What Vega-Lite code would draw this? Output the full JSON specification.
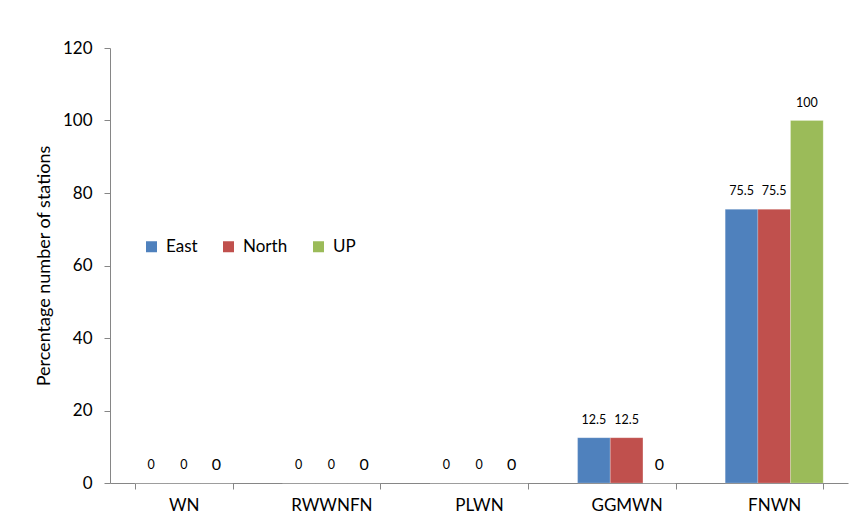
{
  "$schema": "https://vega.github.io/schema/vega-lite/v6.json",
  "autosize": "none",
  "padding": {"left": 110, "top": 48, "right": 18, "bottom": 44},
  "width": 738,
  "height": 435,
  "background": "white",
  "config": {
    "font": "Lato",
    "view": {"stroke": null},
    "axis": {
      "domainColor": "#868686",
      "tickColor": "#868686",
      "labelColor": "#000000",
      "titleColor": "#000000",
      "labelFont": "Lato",
      "titleFont": "Lato",
      "grid": false
    }
  },
  "data": {
    "values": [
      {"category": "WN", "series": "East", "value": 0},
      {"category": "WN", "series": "North", "value": 0},
      {"category": "WN", "series": "UP", "value": 0},
      {"category": "RWWNFN", "series": "East", "value": 0},
      {"category": "RWWNFN", "series": "North", "value": 0},
      {"category": "RWWNFN", "series": "UP", "value": 0},
      {"category": "PLWN", "series": "East", "value": 0},
      {"category": "PLWN", "series": "North", "value": 0},
      {"category": "PLWN", "series": "UP", "value": 0},
      {"category": "GGMWN", "series": "East", "value": 12.5},
      {"category": "GGMWN", "series": "North", "value": 12.5},
      {"category": "GGMWN", "series": "UP", "value": 0},
      {"category": "FNWN", "series": "East", "value": 75.5},
      {"category": "FNWN", "series": "North", "value": 75.5},
      {"category": "FNWN", "series": "UP", "value": 100}
    ]
  },
  "encoding": {
    "x": {
      "field": "category",
      "type": "nominal",
      "sort": ["WN", "RWWNFN", "PLWN", "GGMWN", "FNWN"],
      "scale": {"paddingInner": 0.336, "paddingOuter": 0.168},
      "axis": {
        "title": null,
        "labelAngle": 0,
        "labelFontSize": 17,
        "labelPadding": 8,
        "tickSize": 6,
        "tickBand": "extent",
        "domainWidth": 1
      }
    },
    "xOffset": {
      "field": "series",
      "type": "nominal",
      "sort": ["East", "North", "UP"],
      "scale": {"paddingInner": 0, "paddingOuter": 0}
    },
    "y": {
      "field": "value",
      "type": "quantitative",
      "scale": {"domain": [0, 120], "nice": false},
      "axis": {
        "title": "Percentage number of stations",
        "titleFontSize": 18,
        "titleFontWeight": "normal",
        "titlePadding": 9,
        "labelFontSize": 17,
        "labelPadding": 12,
        "tickSize": 6,
        "values": [0, 20, 40, 60, 80, 100, 120]
      }
    }
  },
  "layer": [
    {
      "mark": {"type": "bar", "stroke": "#ffffff", "strokeOpacity": 0.35, "strokeWidth": 0.6},
      "encoding": {
        "color": {
          "field": "series",
          "type": "nominal",
          "sort": ["East", "North", "UP"],
          "scale": {"domain": ["East", "North", "UP"], "range": ["#4F81BD", "#C0504D", "#9BBB59"]},
          "legend": {
            "title": null,
            "orient": "none",
            "direction": "horizontal",
            "legendX": 33,
            "legendY": 190,
            "symbolType": "square",
            "symbolSize": 121,
            "symbolStrokeWidth": 0,
            "symbolOpacity": 1,
            "labelFontSize": 17,
            "labelFont": "Lato",
            "labelColor": "#000000",
            "labelOffset": 6,
            "columnPadding": 22
          }
        }
      }
    },
    {
      "mark": {"type": "text", "baseline": "middle", "align": "center", "dy": -18, "color": "#000000"},
      "encoding": {
        "text": {"field": "value", "type": "quantitative"},
        "size": {
          "condition": {"test": "datum.series === 'UP' && datum.value === 0", "value": 16},
          "value": 12.5
        },
        "fontWeight": {
          "condition": {"test": "datum.value === 100", "value": "bold"},
          "value": "normal"
        }
      }
    }
  ]
}
